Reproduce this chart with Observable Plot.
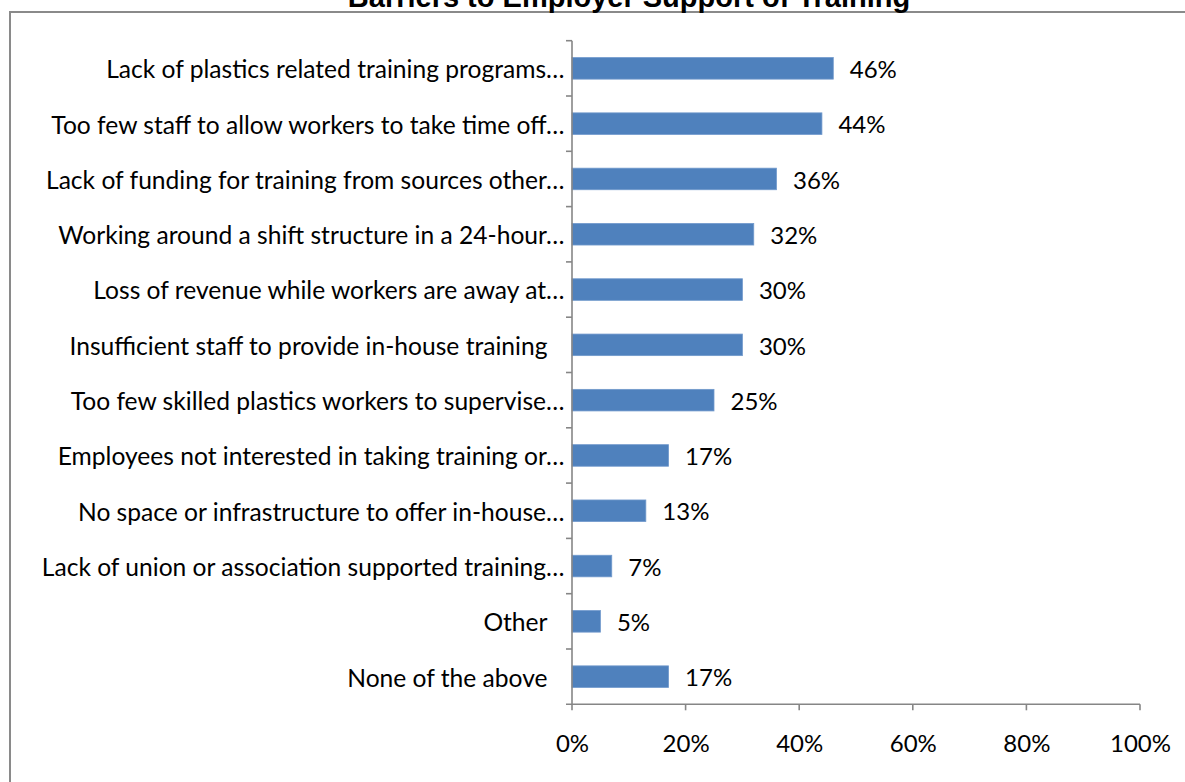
<!DOCTYPE html>
<html>
<head>
<meta charset="utf-8">
<script src="https://cdn.jsdelivr.net/npm/d3@7"></script>
<script src="https://cdn.jsdelivr.net/npm/@observablehq/plot@0.6"></script>
<style>
  html, body { margin: 0; padding: 0; background: #fff; overflow: hidden; }
  #wrap { position: relative; width: 1185px; height: 782px; }
  #frame { position: absolute; left: 9px; top: 11px; width: 1190px; height: 800px;
           border-left: 2px solid #8a8a8a; border-top: 2px solid #8a8a8a; box-sizing: border-box; }
  #title { position: absolute; left: 0; width: 1258px; text-align: center; top: -17px;
           font: bold 29px "Liberation Sans", Arial, sans-serif; line-height: 29px; color: #000; white-space: nowrap; }
  #chart { position: absolute; left: 0; top: 0; }
</style>
</head>
<body>
<div id="wrap">
  <div id="frame"></div>
  <div id="title">Barriers to Employer Support of Training</div>
  <div id="chart"></div>
</div>
<script>
const labels = [
  "Lack of plastics related training programs…",
  "Too few staff to allow workers to take time off…",
  "Lack of funding for training from sources other…",
  "Working around a shift structure in a 24-hour…",
  "Loss of revenue while workers are away at…",
  "Insufficient staff to provide in-house training",
  "Too few skilled plastics workers to supervise…",
  "Employees not interested in taking training or…",
  "No space or infrastructure to offer in-house…",
  "Lack of union or association supported training…",
  "Other",
  "None of the above"
];
const values = [0.46, 0.44, 0.36, 0.32, 0.30, 0.30, 0.25, 0.17, 0.13, 0.07, 0.05, 0.17];
const xTicks = [0, 0.2, 0.4, 0.6, 0.8, 1.0];

const data = labels.map((label, i) => ({label, value: values[i]}));
const pInner = 0.61;
const FONT = "Lato, 'Open Sans', sans-serif";

function axes(index, {x, y}) {
  const g = d3.create("svg:g")
    .attr("stroke", "#868686").attr("stroke-width", 1.6).attr("fill", "none");
  const step = y(labels[1]) - y(labels[0]);
  const top = y(labels[0]) - step * pInner / 2;
  const bottom = top + step * labels.length;
  const x0 = x(0);
  g.append("line").attr("x1", x0).attr("x2", x0).attr("y1", top).attr("y2", bottom);
  for (let i = 0; i < labels.length; i++) {
    const yy = top + i * step;
    g.append("line").attr("x1", x0 - 6).attr("x2", x0).attr("y1", yy).attr("y2", yy);
  }
  g.append("line").attr("x1", x0 - 6).attr("x2", x(1)).attr("y1", bottom).attr("y2", bottom);
  for (const t of xTicks) {
    g.append("line").attr("x1", x(t)).attr("x2", x(t)).attr("y1", bottom).attr("y2", bottom + 6);
  }
  return g.node();
}

const chart = Plot.plot({
  width: 1185,
  height: 782,
  marginLeft: 572,
  marginRight: 45,
  marginTop: 40.7,
  marginBottom: 77.7,
  style: {fontFamily: FONT, fontSize: "24px", color: "#000", background: "transparent", overflow: "visible"},
  x: {domain: [0, 1], axis: null},
  y: {domain: labels, paddingInner: pInner, paddingOuter: pInner / 2, round: false, axis: null},
  marks: [
    Plot.barX(data, {x: "value", y: "label", fill: "#4F81BD", stroke: "#7199cc", strokeWidth: 0.8}),
    axes,
    Plot.text(data, {x: "value", y: "label", text: d => Math.round(d.value * 100) + "%",
      textAnchor: "start", dx: 16, dy: 1.5, fill: "#000", fontSize: 24}),
    Plot.text(data.filter(d => d.label.endsWith("…")), {x: 0, y: "label", text: "label",
      textAnchor: "end", dx: -8, dy: 1.5, fill: "#000", fontSize: 24.6}),
    Plot.text(data.filter(d => !d.label.endsWith("…")), {x: 0, y: "label", text: "label",
      textAnchor: "end", dx: -25, dy: 1.5, fill: "#000", fontSize: 24.6}),
    Plot.text(xTicks, {x: d => d, text: d => Math.round(d * 100) + "%", frameAnchor: "bottom",
      dy: 47, fill: "#000", fontSize: 24})
  ]
});
document.getElementById("chart").appendChild(chart);
</script>
</body>
</html>
